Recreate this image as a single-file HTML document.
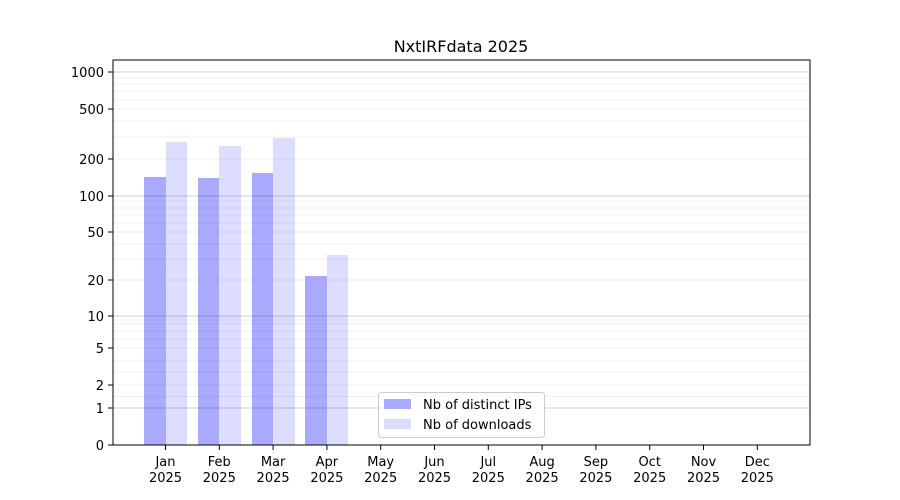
<!DOCTYPE html>
<html><head><style>body{margin:0;background:#fff}svg{display:block}text{font-family:"DejaVu Sans","Liberation Sans",sans-serif;font-size:13px;fill:#000}</style></head>
<body>
<svg width="900" height="500" xmlns="http://www.w3.org/2000/svg">
<rect width="900" height="500" fill="#fff"/>
<g fill="#aaaaff">
<rect x="144" y="177" width="22" height="268"/><rect x="198" y="178" width="21" height="267"/><rect x="252" y="173" width="21" height="272"/><rect x="305" y="276" width="22" height="169"/>
</g>
<g fill="#ddddff">
<rect x="166" y="142" width="21" height="303"/><rect x="219" y="146" width="22" height="299"/><rect x="273" y="138" width="22" height="307"/><rect x="327" y="255" width="21" height="190"/>
</g>
<g stroke="#000" stroke-opacity="0.08" stroke-width="0.8">
<line x1="113" x2="810" y1="396.5" y2="396.5"/><line x1="113" x2="810" y1="385" y2="385"/><line x1="113" x2="810" y1="372" y2="372"/><line x1="113" x2="810" y1="361" y2="361"/><line x1="113" x2="810" y1="348" y2="348"/><line x1="113" x2="810" y1="339" y2="339"/><line x1="113" x2="810" y1="331" y2="331"/><line x1="113" x2="810" y1="324" y2="324"/><line x1="113" x2="810" y1="320" y2="320"/>
<line x1="113" x2="810" y1="280" y2="280"/><line x1="113" x2="810" y1="259" y2="259"/><line x1="113" x2="810" y1="244" y2="244"/><line x1="113" x2="810" y1="232" y2="232"/><line x1="113" x2="810" y1="223" y2="223"/><line x1="113" x2="810" y1="215" y2="215"/><line x1="113" x2="810" y1="208" y2="208"/><line x1="113" x2="810" y1="201" y2="201"/>
<line x1="113" x2="810" y1="159" y2="159"/><line x1="113" x2="810" y1="137" y2="137"/><line x1="113" x2="810" y1="121" y2="121"/><line x1="113" x2="810" y1="109" y2="109"/><line x1="113" x2="810" y1="100" y2="100"/><line x1="113" x2="810" y1="91" y2="91"/><line x1="113" x2="810" y1="84" y2="84"/><line x1="113" x2="810" y1="78" y2="78"/>
</g>
<g stroke="#000" stroke-opacity="0.25" stroke-width="0.8">
<line x1="113" x2="810" y1="408" y2="408"/><line x1="113" x2="810" y1="316" y2="316"/><line x1="113" x2="810" y1="196" y2="196"/><line x1="113" x2="810" y1="72" y2="72"/>
</g>
<rect x="113" y="60" width="697" height="385" fill="none" stroke="#000" stroke-width="1"/>
<text x="461" y="52" text-anchor="middle" style="font-size:16px">NxtIRFdata 2025</text>
<g stroke="#000">
<line x1="108" x2="113" y1="445" y2="445"/><line x1="108" x2="113" y1="408" y2="408"/><line x1="108" x2="113" y1="385" y2="385"/><line x1="108" x2="113" y1="348" y2="348"/><line x1="108" x2="113" y1="316" y2="316"/><line x1="108" x2="113" y1="280" y2="280"/><line x1="108" x2="113" y1="232" y2="232"/><line x1="108" x2="113" y1="196" y2="196"/><line x1="108" x2="113" y1="159" y2="159"/><line x1="108" x2="113" y1="109" y2="109"/><line x1="108" x2="113" y1="72" y2="72"/>
</g>
<g text-anchor="end">
<text x="104" y="450">0</text><text x="104" y="413">1</text><text x="104" y="390">2</text><text x="104" y="353">5</text><text x="104" y="321">10</text><text x="104" y="285">20</text><text x="104" y="237">50</text><text x="104" y="201">100</text><text x="104" y="164">200</text><text x="104" y="114">500</text><text x="104" y="77">1000</text>
</g>
<g text-anchor="middle">
<g stroke="#000"><line x1="165.5" x2="165.5" y1="445" y2="450"/><line x1="219.3" x2="219.3" y1="445" y2="450"/><line x1="273.1" x2="273.1" y1="445" y2="450"/><line x1="326.9" x2="326.9" y1="445" y2="450"/><line x1="380.7" x2="380.7" y1="445" y2="450"/><line x1="434.5" x2="434.5" y1="445" y2="450"/><line x1="488.3" x2="488.3" y1="445" y2="450"/><line x1="542.1" x2="542.1" y1="445" y2="450"/><line x1="595.9" x2="595.9" y1="445" y2="450"/><line x1="649.7" x2="649.7" y1="445" y2="450"/><line x1="703.5" x2="703.5" y1="445" y2="450"/><line x1="757.3" x2="757.3" y1="445" y2="450"/></g>
<text x="165.5" y="466">Jan</text><text x="165.5" y="482">2025</text>
<text x="219.3" y="466">Feb</text><text x="219.3" y="482">2025</text>
<text x="273.1" y="466">Mar</text><text x="273.1" y="482">2025</text>
<text x="326.9" y="466">Apr</text><text x="326.9" y="482">2025</text>
<text x="380.7" y="466">May</text><text x="380.7" y="482">2025</text>
<text x="434.5" y="466">Jun</text><text x="434.5" y="482">2025</text>
<text x="488.3" y="466">Jul</text><text x="488.3" y="482">2025</text>
<text x="542.1" y="466">Aug</text><text x="542.1" y="482">2025</text>
<text x="595.9" y="466">Sep</text><text x="595.9" y="482">2025</text>
<text x="649.7" y="466">Oct</text><text x="649.7" y="482">2025</text>
<text x="703.5" y="466">Nov</text><text x="703.5" y="482">2025</text>
<text x="757.3" y="466">Dec</text><text x="757.3" y="482">2025</text>
</g>
<rect x="378.5" y="392.5" width="166" height="45" rx="3" fill="#fff" fill-opacity="0.8" stroke="#ccc"/>
<rect x="384" y="399" width="27" height="10" fill="#aaaaff"/>
<rect x="384" y="419" width="27" height="10" fill="#ddddff"/>
<text x="423" y="409">Nb of distinct IPs</text>
<text x="423" y="429">Nb of downloads</text>
</svg>
</body></html>
